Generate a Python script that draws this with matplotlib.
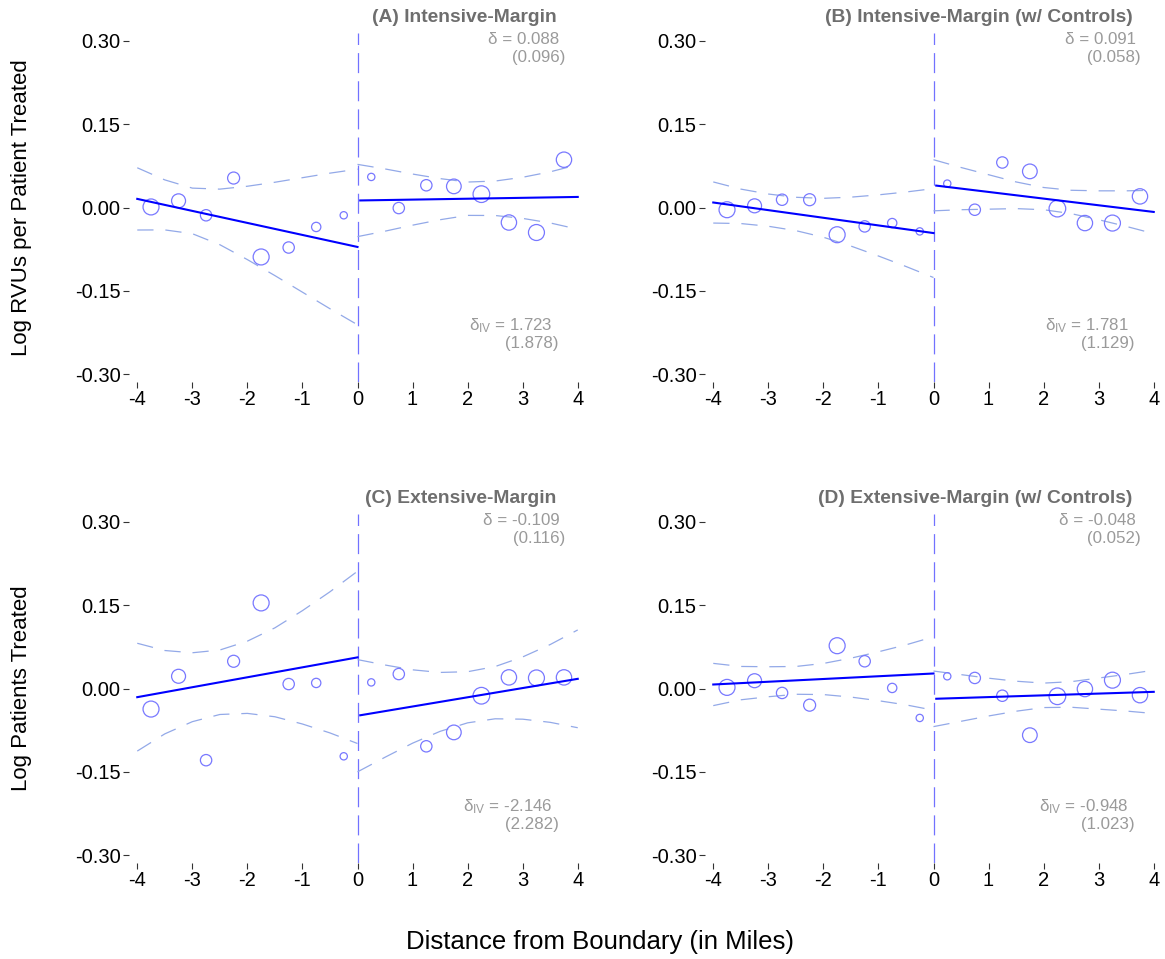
import matplotlib
matplotlib.use("Agg")
import matplotlib.pyplot as plt
import numpy as np

plt.rcParams['font.family'] = ['Liberation Sans', 'DejaVu Sans']
plt.rcParams['mathtext.fontset'] = 'custom'
plt.rcParams['mathtext.rm'] = 'Liberation Sans'
plt.rcParams['mathtext.it'] = 'Liberation Sans:italic'

# bin midpoints (miles from boundary)
x_left = [-3.75, -3.25, -2.75, -2.25, -1.75, -1.25, -0.75, -0.25]
x_right = [0.25, 0.75, 1.25, 1.75, 2.25, 2.75, 3.25, 3.75]
# observations per bin (marker area)
n_left = [575, 440, 290, 325, 575, 290, 195, 120]
n_right = [120, 290, 290, 485, 625, 530, 575, 530]

# grid where the confidence band half-widths were evaluated
band_x_left = [-4, -3.5, -3, -2.5, -2, -1.5, -1, -0.5, 0]
band_x_right = [0, 0.5, 1, 1.5, 2, 2.5, 3, 3.5, 4]

# (A) intensive margin
a_left = [0.001, 0.012, -0.014, 0.053, -0.089, -0.072, -0.035, -0.014]
a_right = [0.055, -0.001, 0.040, 0.038, 0.024, -0.027, -0.045, 0.086]
a_fit_left = [0.0155, -0.071]
a_fit_right = [0.0126, 0.019]
a_hw_left = [0.056, 0.045, 0.041, 0.050, 0.066, 0.084, 0.103, 0.122, 0.140]
a_hw_right = [0.065, 0.056, 0.046, 0.037, 0.030, 0.031, 0.037, 0.046, 0.058]

# (B) intensive margin with controls
b_left = [-0.004, 0.003, 0.014, 0.014, -0.049, -0.034, -0.028, -0.043]
b_right = [0.043, -0.004, 0.081, 0.065, -0.002, -0.028, -0.028, 0.020]
b_fit_left = [0.009, -0.046]
b_fit_right = [0.040, -0.008]
b_hw_left = [0.037, 0.031, 0.029, 0.030, 0.035, 0.044, 0.055, 0.067, 0.080]
b_hw_right = [0.046, 0.038, 0.031, 0.024, 0.020, 0.021, 0.026, 0.032, 0.039]

# (C) extensive margin
c_left = [-0.037, 0.022, -0.129, 0.049, 0.154, 0.008, 0.010, -0.122]
c_right = [0.011, 0.026, -0.104, -0.079, -0.013, 0.020, 0.019, 0.020]
c_fit_left = [-0.0156, 0.056]
c_fit_right = [-0.049, 0.0174]
c_hw_left = [0.097, 0.075, 0.062, 0.058, 0.065, 0.080, 0.102, 0.127, 0.155]
c_hw_right = [0.101, 0.083, 0.066, 0.053, 0.046, 0.047, 0.056, 0.070, 0.088]

# (D) extensive margin with controls
d_left = [0.002, 0.014, -0.008, -0.030, 0.077, 0.049, 0.001, -0.053]
d_right = [0.022, 0.019, -0.013, -0.084, -0.014, -0.001, 0.015, -0.012]
d_fit_left = [0.0072, 0.027]
d_fit_right = [-0.0186, -0.006]
d_hw_left = [0.038, 0.030, 0.027, 0.025, 0.028, 0.035, 0.044, 0.054, 0.066]
d_hw_right = [0.050, 0.042, 0.034, 0.027, 0.022, 0.023, 0.028, 0.033, 0.039]

titles = ["(A) Intensive-Margin", "(B) Intensive-Margin (w/ Controls)",
          "(C) Extensive-Margin", "(D) Extensive-Margin (w/ Controls)"]
deltas = ["0.088", "0.091", "-0.109", "-0.048"]
delta_se = ["(0.096)", "(0.058)", "(0.116)", "(0.052)"]
deltas_iv = ["1.723", "1.781", "-2.146", "-0.948"]
delta_iv_se = ["(1.878)", "(1.129)", "(2.282)", "(1.023)"]

panels = [
    (a_left, a_right, a_fit_left, a_fit_right, a_hw_left, a_hw_right),
    (b_left, b_right, b_fit_left, b_fit_right, b_hw_left, b_hw_right),
    (c_left, c_right, c_fit_left, c_fit_right, c_hw_left, c_hw_right),
    (d_left, d_right, d_fit_left, d_fit_right, d_hw_left, d_hw_right),
]

W, H = 1165, 959
fig = plt.figure(figsize=(W / 100, H / 100), dpi=100)

# axes boxes in pixels: left, top, right, bottom
boxes = [(129, 33, 586, 382), (705, 33, 1162, 382),
         (129, 514, 586, 863), (705, 514, 1162, 863)]

point_col = '#7878ff'
fit_col = '#0000ff'
band_col = '#93a9e8'
vline_col = '#7272ff'
gray_title = '#6e6e6e'
gray_text = '#9a9a9a'

for i, (l, t, r, b) in enumerate(boxes):
    ax = fig.add_axes([l / W, 1 - b / H, (r - l) / W, (b - t) / H])
    yl, yr, fl, fr, hl, hr = panels[i]

    ax.axvline(0, color=vline_col, lw=0.9, dashes=(16, 6.5), zorder=1)

    ax.scatter(x_left, yl, s=np.array(n_left) * 0.23, facecolors='none',
               edgecolors=point_col, linewidths=0.9, zorder=3)
    ax.scatter(x_right, yr, s=np.array(n_right) * 0.23, facecolors='none',
               edgecolors=point_col, linewidths=0.9, zorder=3)

    # fitted lines on each side of the boundary
    ax.plot([-4, 0], fl, color=fit_col, lw=1.5, zorder=4)
    ax.plot([0.05, 4], [fr[0] + (fr[1] - fr[0]) * 0.05 / 4, fr[1]],
            color=fit_col, lw=1.5, zorder=4)

    # confidence bands around the fits
    bxl = np.array(band_x_left)
    bxr = np.array(band_x_right)
    fit_l = fl[0] + (fl[1] - fl[0]) * (bxl + 4) / 4
    fit_r = fr[0] + (fr[1] - fr[0]) * bxr / 4
    for sign in (1, -1):
        ax.plot(bxl, fit_l + sign * np.array(hl), color=band_col, lw=0.9,
                dashes=(13, 9.5), zorder=2)
        ax.plot(bxr, fit_r + sign * np.array(hr), color=band_col, lw=0.9,
                dashes=(13, 9.5), zorder=2)

    ax.set_xlim(-4.15, 4.15)
    ax.set_ylim(-0.314, 0.314)
    ax.set_xticks([-4, -3, -2, -1, 0, 1, 2, 3, 4])
    ax.set_xticklabels(['-4', '-3', '-2', '-1', '0', '1', '2', '3', '4'])
    ax.set_yticks([-0.30, -0.15, 0.0, 0.15, 0.30])
    ax.set_yticklabels(['-0.30', '-0.15', '0.00', '0.15', '0.30'])
    ax.tick_params(axis='both', length=4, width=0.8, color='#333333',
                   labelsize=14.5, labelcolor='black', pad=2)
    for sp in ax.spines.values():
        sp.set_visible(False)

    ax.text(3.62, 0.341, titles[i], ha='right', va='center', fontsize=13.9,
            fontweight='bold', color=gray_title, clip_on=False)
    ax.text(3.67, 0.303, "\u03b4 = " + deltas[i], ha='right', va='center',
            fontsize=12.2, color=gray_text)
    ax.text(3.77, 0.270, delta_se[i], ha='right', va='center',
            fontsize=12.2, color=gray_text)
    ax.text(3.54, -0.2135, "\u03b4$_{\\mathrm{IV}}$ = " + deltas_iv[i],
            ha='right', va='center', fontsize=12.2, color=gray_text)
    ax.text(3.65, -0.244, delta_iv_se[i], ha='right', va='center',
            fontsize=12.2, color=gray_text)

fig.text(22 / W, 1 - 208 / H, "Log RVUs per Patient Treated", rotation=90,
         ha='center', va='center', fontsize=16)
fig.text(22 / W, 1 - 688 / H, "Log Patients Treated", rotation=90,
         ha='center', va='center', fontsize=16)
fig.text(600 / W, 1 - 942 / H, "Distance from Boundary (in Miles)",
         ha='center', va='center', fontsize=18.5)

fig.savefig("out.png", dpi=100, facecolor='white')
